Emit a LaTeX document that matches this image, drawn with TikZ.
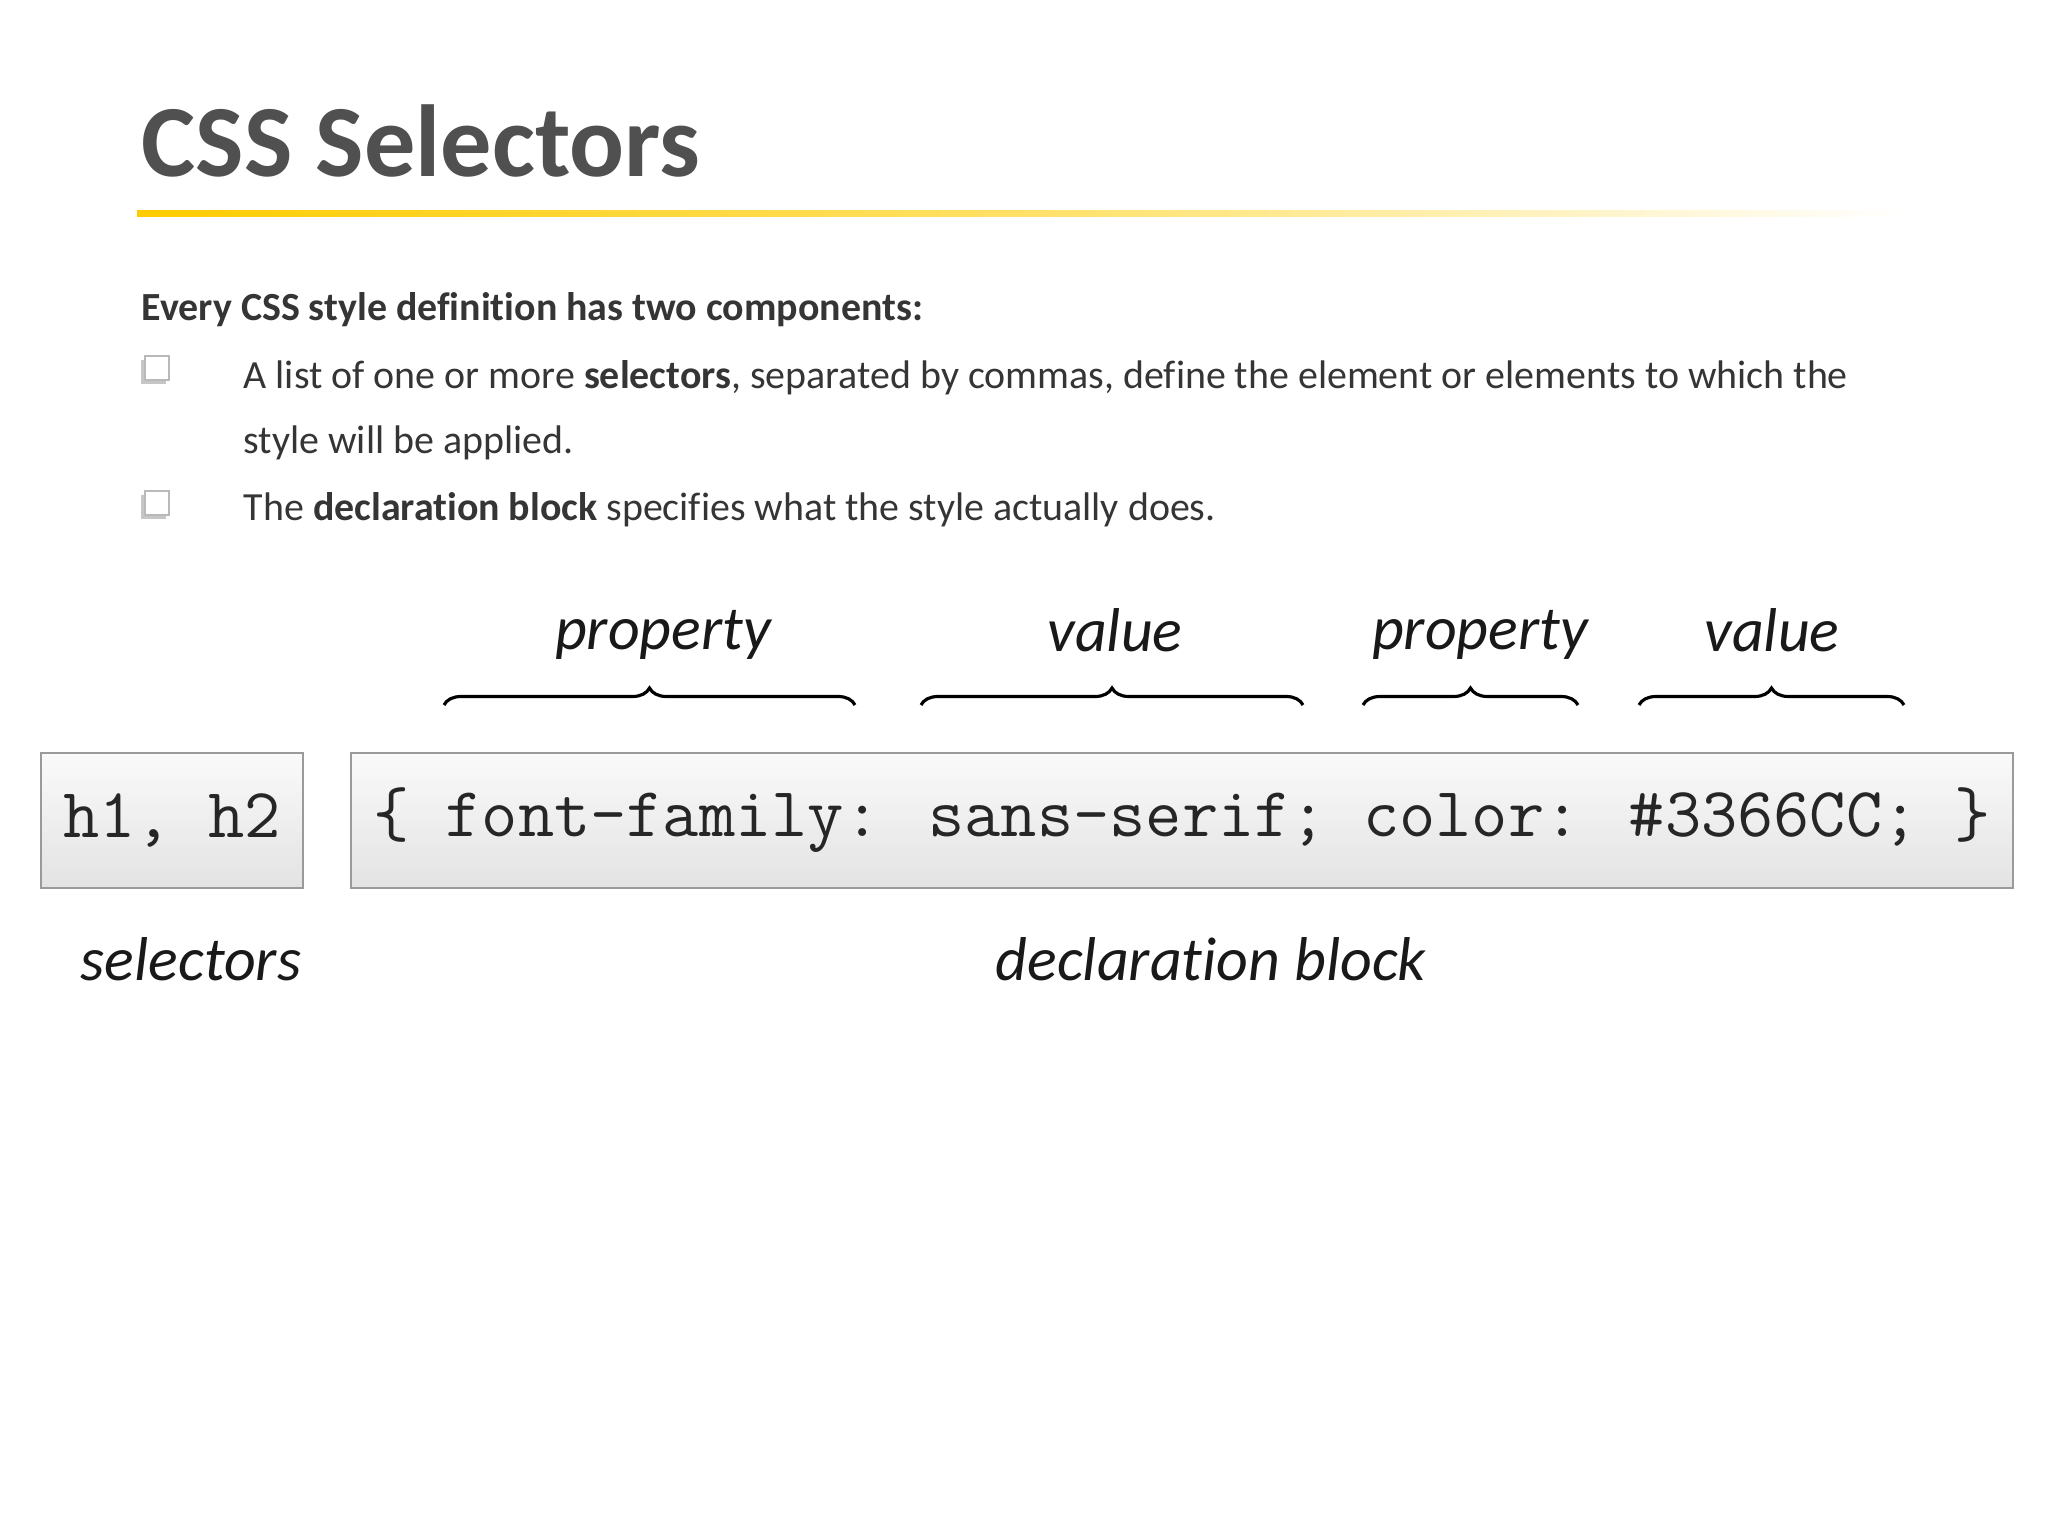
\documentclass[tikz,border=0pt]{standalone}
\usepackage{fontspec}
\setmainfont{Carlito}[Ligatures=NoCommon]
\usetikzlibrary{decorations.pathreplacing,shadows}
\definecolor{titlegray}{HTML}{505050}
\definecolor{textgray}{HTML}{353535}
\definecolor{rulegold}{HTML}{FFCC00}
\definecolor{boxedge}{HTML}{9A9A9A}
\newcommand{\kw}[1]{\textbf{#1}}
\newcommand{\bodysize}{\fontsize{11.35}{13}\selectfont}
\tikzset{
  title/.style={anchor=base west, inner sep=0pt, text=titlegray, font=\fontsize{29.1}{33}\selectfont\bfseries},
  bodytext/.style={anchor=base west, inner sep=0pt, text=textgray, font=\bodysize},
  chkbox/.style={draw=gray!55, fill=white, minimum size=0.24cm, inner sep=0pt,
    drop shadow={shadow xshift=-0.035cm, shadow yshift=-0.035cm, fill=gray!45, opacity=1}},
  codebox/.style={draw=boxedge, line width=0.6pt, top color=gray!4, bottom color=gray!22,
    anchor=north west, inner sep=0pt, font=\ttfamily\fontsize{20}{23}\selectfont, text=black!85},
  partlabel/.style={anchor=base, inner sep=0pt, font=\fontsize{17.6}{20}\selectfont\itshape, text=black!90},
  partbrace/.style={decorate, decoration={brace, amplitude=0.17cm}, line width=0.9pt},
}
\begin{document}
\begin{tikzpicture}[x=0.01cm, y=-0.01cm]
	\fill[white] (0,0) rectangle (2048,1536);
	\node[title] (ttl) at (141,176) {CSS Selectors};
	\shade[left color=rulegold, right color=white, middle color=rulegold!60] (137,210) rectangle (1907,216);
	\node[bodytext, font=\bodysize\bfseries] (intro) at (141,320) {Every CSS style definition has two components:};
	\node[chkbox] (chk1) at (157,368) {};
	\node[bodytext] (item1) at (243,388) {A list of one or more \kw{selectors}, separated by commas, define the element or elements to which the};
	\node[bodytext] (item1b) at (243,453) {style will be applied.};
	\node[chkbox] (chk2) at (157,503) {};
	\node[bodytext] (item2) at (243,520) {The \kw{declaration block} specifies what the style actually does.};
	\node[codebox, minimum width=2.62cm, minimum height=1.35cm] (sel) at (40,752) {h1, h2};
	\node[codebox, minimum width=16.61cm, minimum height=1.35cm] (decl) at (350,752) {\{ font-family: sans-serif; color: \#3366CC; \}};
	\node[partlabel] (prop1) at (663,649) {property};
	\node[partlabel] (val1) at (1115,651) {value};
	\node[partlabel] (prop2) at (1480,649) {property};
	\node[partlabel] (val2) at (1772,651) {value};
	\node[partlabel] (selname) at (191,980) {selectors};
	\node[partlabel] (declname) at (1211,980) {declaration block};
	\coordinate (b1w) at (444,705);
	\coordinate (b1e) at (855,705);
	\coordinate (b2w) at (921,705);
	\coordinate (b2e) at (1303,705);
	\coordinate (b3w) at (1363,705);
	\coordinate (b3e) at (1578,705);
	\coordinate (b4w) at (1639,705);
	\coordinate (b4e) at (1904,705);
	\draw[partbrace] (b1w) -- (b1e);
	\draw[partbrace] (b2w) -- (b2e);
	\draw[partbrace] (b3w) -- (b3e);
	\draw[partbrace] (b4w) -- (b4e);
\end{tikzpicture}
\end{document}
